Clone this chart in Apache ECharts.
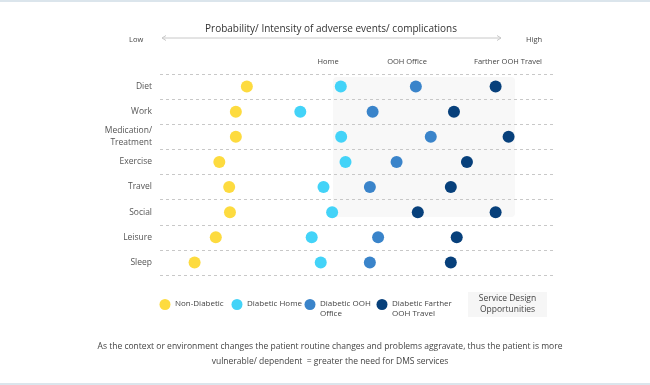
<!DOCTYPE html>
<html><head><meta charset="utf-8">
<script src="https://cdn.jsdelivr.net/npm/echarts@6/dist/echarts.min.js"></script>
<style>html,body{margin:0;padding:0;background:#fff}#c{width:650px;height:385px}</style>
</head><body><div id="c"></div>
<script>
const categories = ['Diet','Work','Medication/\nTreatment','Exercise','Travel','Social','Leisure','Sleep'];
const nonDiabetic  = [22.1, 19.3, 19.3, 15.1, 17.6, 17.8, 14.2, 8.8];
const diabeticHome = [46.0, 35.7, 46.1, 47.2, 41.6, 43.8, 38.6, 40.9];
const diabeticOffice = [65.1, 54.1, 68.9, 60.2, 53.4, null, 55.5, 53.4];
const diabeticTravel = [85.4, 74.8, 88.7, 78.1, 74.0, 85.4, 75.5, 74.0];
const diabeticTravelExtra = [null, null, null, null, null, 65.6, null, null];
const seriesNames = ['Non-Diabetic','Diabetic Home','Diabetic OOH Office','Diabetic Farther OOH Travel'];
const legendLabels = ['Non-Diabetic','Diabetic Home','Diabetic OOH\nOffice','Diabetic Farther\nOOH Travel'];
const contextLabels = ['Home','OOH Office','Farther OOH Travel'];

const colors = ['#FDDB3F','#43D3F8','#3A84CA','#07407B'];
const FONT = '"Open Sans", sans-serif';
const toPts = arr => arr.map((v,i)=> v==null ? null : [v, categories[i]]).filter(d=>d);

const chart = echarts.init(document.getElementById('c'), null, {renderer:'canvas'});
const series = [nonDiabetic, diabeticHome, diabeticOffice, diabeticTravel].map((arr,k)=>({
  name: seriesNames[k], type:'scatter', symbolSize: 12,
  itemStyle:{color: colors[k], opacity:1}, data: toPts(arr), z: 5
}));
series.push({name: seriesNames[3], type:'scatter', symbolSize:12, itemStyle:{color: colors[3], opacity:1}, data: toPts(diabeticTravelExtra), z:5});

const legendX = [165, 237, 310, 382];
const legendGraphics = [];
legendLabels.forEach((t,k)=>{
  legendGraphics.push({type:'circle', shape:{cx:legendX[k], cy:304.5, r:5.5}, style:{fill:colors[k]}});
  legendGraphics.push({type:'text', x:legendX[k]+10, y:298, style:{text:t, font:'8px "Open Sans", sans-serif', fill:'#444', lineHeight:10.5, verticalAlign:'top'}});
});

const ctxX = [323, 402, 503];
chart.setOption({
  animation:false,
  color: colors,
  title:[
    {text:'Probability/ Intensity of adverse events/ complications', left: 326, top: 19, textAlign:'center',
     textStyle:{fontFamily:FONT, fontSize:10, fontWeight:'normal', color:'#333'}},
    {text:'Low', left: 124, top: 31, textStyle:{fontFamily:FONT, fontSize:7.5, fontWeight:'normal', color:'#444'}},
    {text:'High', left: 521, top: 31, textStyle:{fontFamily:FONT, fontSize:7.5, fontWeight:'normal', color:'#444'}},
    ...contextLabels.map((t,i)=>({text:t, left: ctxX[i], top: 53, textAlign:'center',
      textStyle:{fontFamily:FONT, fontSize:7.5, fontWeight:'normal', color:'#444'}})),
    {text:'As the context or environment changes the patient routine changes and problems aggravate, thus the patient is more\nvulnerable/ dependent  = greater the need for DMS services',
     left: 325, top: 334, textAlign:'center',
     textStyle:{fontFamily:FONT, fontSize:8.5, fontWeight:'normal', color:'#444', lineHeight: 15}}
  ],
  grid:{left:160, right:97, top:74, bottom:110, containLabel:false},
  xAxis:{type:'value', min:0, max:100, show:false},
  yAxis:{type:'category', data:categories, inverse:true, boundaryGap:true,
    axisLine:{show:false}, axisTick:{show:false},
    axisLabel:{fontFamily:FONT, fontSize:8.5, color:'#555', margin:8, lineHeight:12},
    splitLine:{show:true, lineStyle:{color:'#c8c8c8', type:[3,3], width:1}}},
  graphic:[
    {type:'rect', shape:{x:0,y:0,width:650,height:2}, style:{fill:'#dbe5ec'}, silent:true},
    {type:'rect', shape:{x:0,y:383,width:650,height:2}, style:{fill:'#dbe5ec'}, silent:true},
    {type:'rect', shape:{x:333,y:77,width:182,height:140,r:4}, style:{fill:'#f8f8f8'}, z:-10, silent:true},
    {type:'line', shape:{x1:162,y1:38,x2:501,y2:38}, style:{stroke:'#c8c8c8', lineWidth:1}},
    {type:'polyline', shape:{points:[[166,35.5],[162,38],[166,40.5]]}, style:{stroke:'#c8c8c8', fill:null, lineWidth:1}},
    {type:'polyline', shape:{points:[[497,35.5],[501,38],[497,40.5]]}, style:{stroke:'#c8c8c8', fill:null, lineWidth:1}},
    {type:'rect', shape:{x:468,y:292,width:79,height:25}, style:{fill:'#f6f6f6'}},
    {type:'text', x:507.5, y:304.5, style:{text:'Service Design\nOpportunities', align:'center', verticalAlign:'middle',
      font:'8.5px "Open Sans", sans-serif', fill:'#444', lineHeight:11}},
    ...legendGraphics
  ],
  series: series
});
</script></body></html>
